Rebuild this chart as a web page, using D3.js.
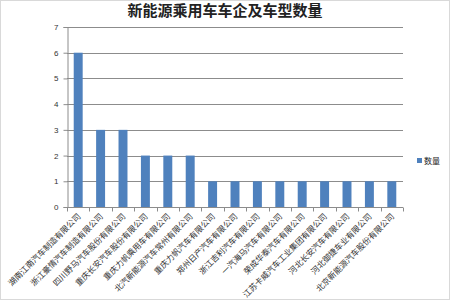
<!DOCTYPE html>
<html>
<head>
<meta charset="UTF-8">
<script src="https://cdn.jsdelivr.net/npm/d3@7"></script>
<style>
  body { margin: 0; background: #fff; }
  text { font-family: "Noto Sans CJK SC", sans-serif; }
</style>
</head>
<body>
<div id="chart"></div>
<script>
var companies = [
  "湖南江南汽车制造有限公司", "浙江豪情汽车制造有限公司", "四川野马汽车股份有限公司",
  "重庆长安汽车股份有限公司", "重庆力帆乘用车有限公司", "北汽新能源汽车常州有限公司",
  "重庆力帆汽车有限公司", "郑州日产汽车有限公司", "浙江吉利汽车有限公司",
  "一汽海马汽车有限公司", "荣成华泰汽车有限公司", "江苏卡威汽车工业集团有限公司",
  "河北长安汽车有限公司", "河北御捷车业有限公司", "北京新能源汽车股份有限公司"
];
var counts = [6, 3, 3, 2, 2, 2, 1, 1, 1, 1, 1, 1, 1, 1, 1];
var yTicks = [0, 1, 2, 3, 4, 5, 6, 7];

var svg = d3.select("#chart").append("svg")
    .attr("width", 450).attr("height", 300);

svg.append("rect").attr("x", 0.5).attr("y", 0.5)
    .attr("width", 449).attr("height", 299)
    .attr("fill", "#fff").attr("stroke", "#d9d9d9");

svg.append("text").attr("x", 225).attr("y", 16)
    .attr("text-anchor", "middle")
    .attr("font-size", 15).attr("font-weight", "bold")
    .attr("fill", "#222")
    .text("新能源乘用车车企及车型数量");

var plotL = 67, plotR = 403, plotT = 27, plotB = 207;

var x = d3.scaleBand().domain(companies).range([plotL, plotR])
    .paddingInner(0.6).paddingOuter(0.3);
var band = d3.scaleBand().domain(companies).range([plotL, plotR]);
var y = d3.scaleLinear().domain([0, 7]).range([plotB, plotT]);

// grid
svg.append("g").selectAll("line").data(yTicks.slice(1)).join("line")
    .attr("x1", plotL).attr("x2", plotR)
    .attr("y1", function(d){ return Math.round(y(d)) + 0.5; })
    .attr("y2", function(d){ return Math.round(y(d)) + 0.5; })
    .attr("stroke", "#8c8c8c").attr("stroke-width", 1);

// y axis
var ya = svg.append("g").attr("transform", "translate(" + (plotL + 0.5) + ",0)")
    .call(d3.axisLeft(y).tickValues(yTicks).tickFormat(d3.format("d"))
      .tickSize(4).tickPadding(5));
ya.select(".domain").attr("stroke", "#8c8c8c");
ya.selectAll(".tick line").attr("stroke", "#8c8c8c");
ya.selectAll(".tick text").attr("font-size", 8).attr("fill", "#333")
    .style("font-family", "Liberation Sans, Arial, sans-serif");

// bars
svg.append("g").selectAll("rect").data(counts).join("rect")
    .attr("x", function(d, i){ return x(companies[i]); })
    .attr("width", x.bandwidth())
    .attr("y", function(d){ return y(d); })
    .attr("height", function(d){ return plotB - y(d); })
    .attr("fill", "#4f81bd");

// x axis
var baseY = Math.round(plotB) + 0.5;
svg.append("line").attr("x1", plotL).attr("x2", plotR)
    .attr("y1", baseY).attr("y2", baseY).attr("stroke", "#8c8c8c");
var edges = companies.map(function(c){ return band(c); }).concat([plotR]);
svg.append("g").selectAll("line").data(edges).join("line")
    .attr("x1", function(d){ return Math.round(d) + 0.5; })
    .attr("x2", function(d){ return Math.round(d) + 0.5; })
    .attr("y1", baseY).attr("y2", baseY + 4)
    .attr("stroke", "#8c8c8c");

svg.append("g").selectAll("text").data(companies).join("text")
    .attr("transform", function(d){
      var cx = band(d) + band.bandwidth() / 2 + 3;
      return "translate(" + cx + "," + (plotB + 10) + ") rotate(-45)";
    })
    .attr("text-anchor", "end")
    .attr("font-size", 8.2).attr("fill", "#333")
    .text(function(d){ return d; });

// legend
svg.append("rect").attr("x", 417).attr("y", 158)
    .attr("width", 5).attr("height", 5).attr("fill", "#4f81bd");
svg.append("text").attr("x", 424).attr("y", 164)
    .attr("font-size", 8).attr("fill", "#222").text("数量");
</script>
</body>
</html>
